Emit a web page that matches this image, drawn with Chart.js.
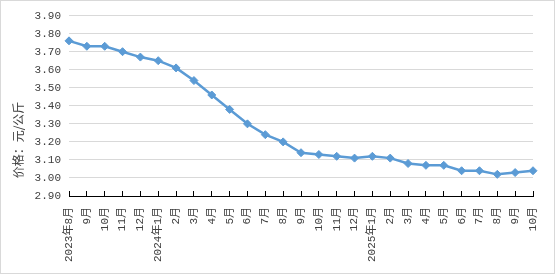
<!DOCTYPE html>
<html lang="zh">
<head>
<meta charset="UTF-8">
<title>价格走势</title>
<style>
    html, body { margin: 0; padding: 0; background: #fff; }
    .box { width: 555px; height: 274px; box-sizing: border-box; border: 1px solid #d9d9d9; }
    canvas { display: block; }
</style>
</head>
<body>
<div class="box">
    <canvas id="priceChart" width="553" height="272"></canvas>
</div>
<script src="https://cdn.jsdelivr.net/npm/chart.js"></script>
<script>
// 月份
const months = ['2023年8月', '9月', '10月', '11月', '12月',
    '2024年1月', '2月', '3月', '4月', '5月', '6月', '7月', '8月', '9月', '10月', '11月', '12月',
    '2025年1月', '2月', '3月', '4月', '5月', '6月', '7月', '8月', '9月', '10月'];
// 价格（元/公斤）
const prices = [3.76, 3.73, 3.73, 3.70, 3.67,
    3.65, 3.61, 3.54, 3.46, 3.38, 3.30, 3.24, 3.20, 3.14, 3.13, 3.12, 3.11,
    3.12, 3.11, 3.08, 3.07, 3.07, 3.04, 3.04, 3.02, 3.03, 3.04];
const yMin = 2.9, yMax = 3.9, yStep = 0.1;
const yTitle = '价格：元/公斤';

const lineColor = '#5b9bd5';
const textColor = '#404040';
const tickFont = { family: "'Liberation Mono', 'Noto Sans CJK SC'", size: 11 };

// 纵轴标题，放在整张图的竖直中间
const yTitlePlugin = {
    id: 'yTitle',
    afterDraw(chart) {
        const ctx = chart.ctx;
        ctx.save();
        ctx.translate(17, 139);
        ctx.rotate(-Math.PI / 2);
        ctx.font = "12px 'Noto Sans CJK SC'";
        ctx.fillStyle = textColor;
        ctx.textAlign = 'center';
        ctx.textBaseline = 'middle';
        ctx.fillText(yTitle, 0, 0);
        ctx.restore();
    }
};

new Chart(document.getElementById('priceChart'), {
    type: 'line',
    data: {
        labels: months,
        datasets: [{
            data: prices,
            borderColor: lineColor,
            backgroundColor: lineColor,
            borderWidth: 2.5,
            pointStyle: 'rectRot',
            pointRadius: 4,
            pointBorderWidth: 1,
            tension: 0
        }]
    },
    options: {
        responsive: false,
        animation: false,
        layout: { padding: { left: 28, right: 21, top: 13, bottom: 0 } },
        plugins: {
            legend: { display: false },
            tooltip: { enabled: false }
        },
        scales: {
            x: {
                offset: false,
                grid: { drawOnChartArea: false, drawTicks: true, tickLength: -5, color: '#000' },
                border: { color: '#000', width: 1 },
                ticks: {
                    color: textColor, font: tickFont,
                    maxRotation: 90, minRotation: 90, autoSkip: false, padding: 16
                },
                afterFit(scale) {
                    scale.height = 77;
                    scale.paddingLeft = 0;
                    scale.paddingRight = 0;
                }
            },
            y: {
                min: yMin, max: yMax,
                grid: { color: '#d9d9d9', drawTicks: false },
                border: { display: false },
                ticks: {
                    stepSize: yStep, color: textColor, font: tickFont, padding: 8,
                    callback: v => Number(v).toFixed(2)
                },
                afterFit(scale) { scale.width = 40; }
            }
        }
    },
    plugins: [yTitlePlugin]
});
</script>
</body>
</html>
